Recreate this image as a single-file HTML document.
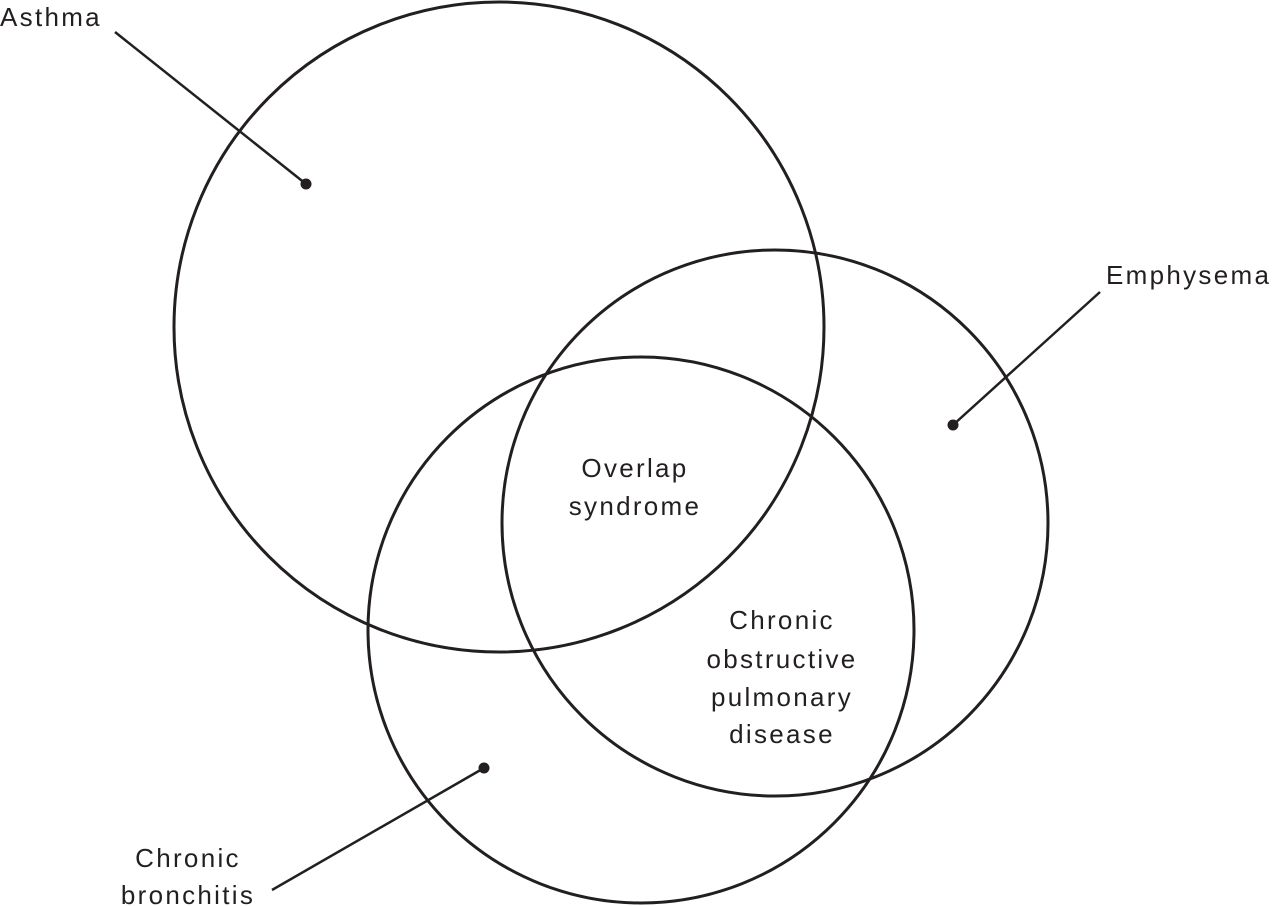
<!DOCTYPE html>
<html><head><meta charset="utf-8"><style>
html,body{margin:0;padding:0;background:#fff;}
svg{display:block;}
text{font-family:"Liberation Sans",sans-serif;font-size:26px;letter-spacing:2.3px;fill:#231f20;}
</style></head><body>
<svg width="1275" height="906" viewBox="0 0 1275 906" xmlns="http://www.w3.org/2000/svg">
<g fill="none" stroke="#231f20" stroke-width="3">
<circle cx="499" cy="327" r="325"/>
<circle cx="775" cy="523" r="273"/>
<circle cx="641" cy="630" r="273"/>
<line x1="115" y1="32" x2="306" y2="184" stroke-width="2.5"/>
<line x1="1100" y1="292" x2="953" y2="425" stroke-width="2.5"/>
<line x1="272" y1="890" x2="484" y2="768" stroke-width="2.5"/>
</g>
<g fill="#231f20">
<circle cx="306" cy="184" r="5.5"/>
<circle cx="953" cy="425" r="5.5"/>
<circle cx="484" cy="768" r="5.5"/>
</g>
<text x="0" y="26">Asthma</text>
<text x="1106" y="284">Emphysema</text>
<text x="188" y="867" text-anchor="middle">Chronic</text>
<text x="188" y="904" text-anchor="middle">bronchitis</text>
<text x="635" y="477" text-anchor="middle">Overlap</text>
<text x="635" y="515" text-anchor="middle">syndrome</text>
<text x="782" y="629" text-anchor="middle">Chronic</text>
<text x="782" y="668" text-anchor="middle">obstructive</text>
<text x="782" y="706" text-anchor="middle">pulmonary</text>
<text x="782" y="743" text-anchor="middle">disease</text>
</svg>
</body></html>
